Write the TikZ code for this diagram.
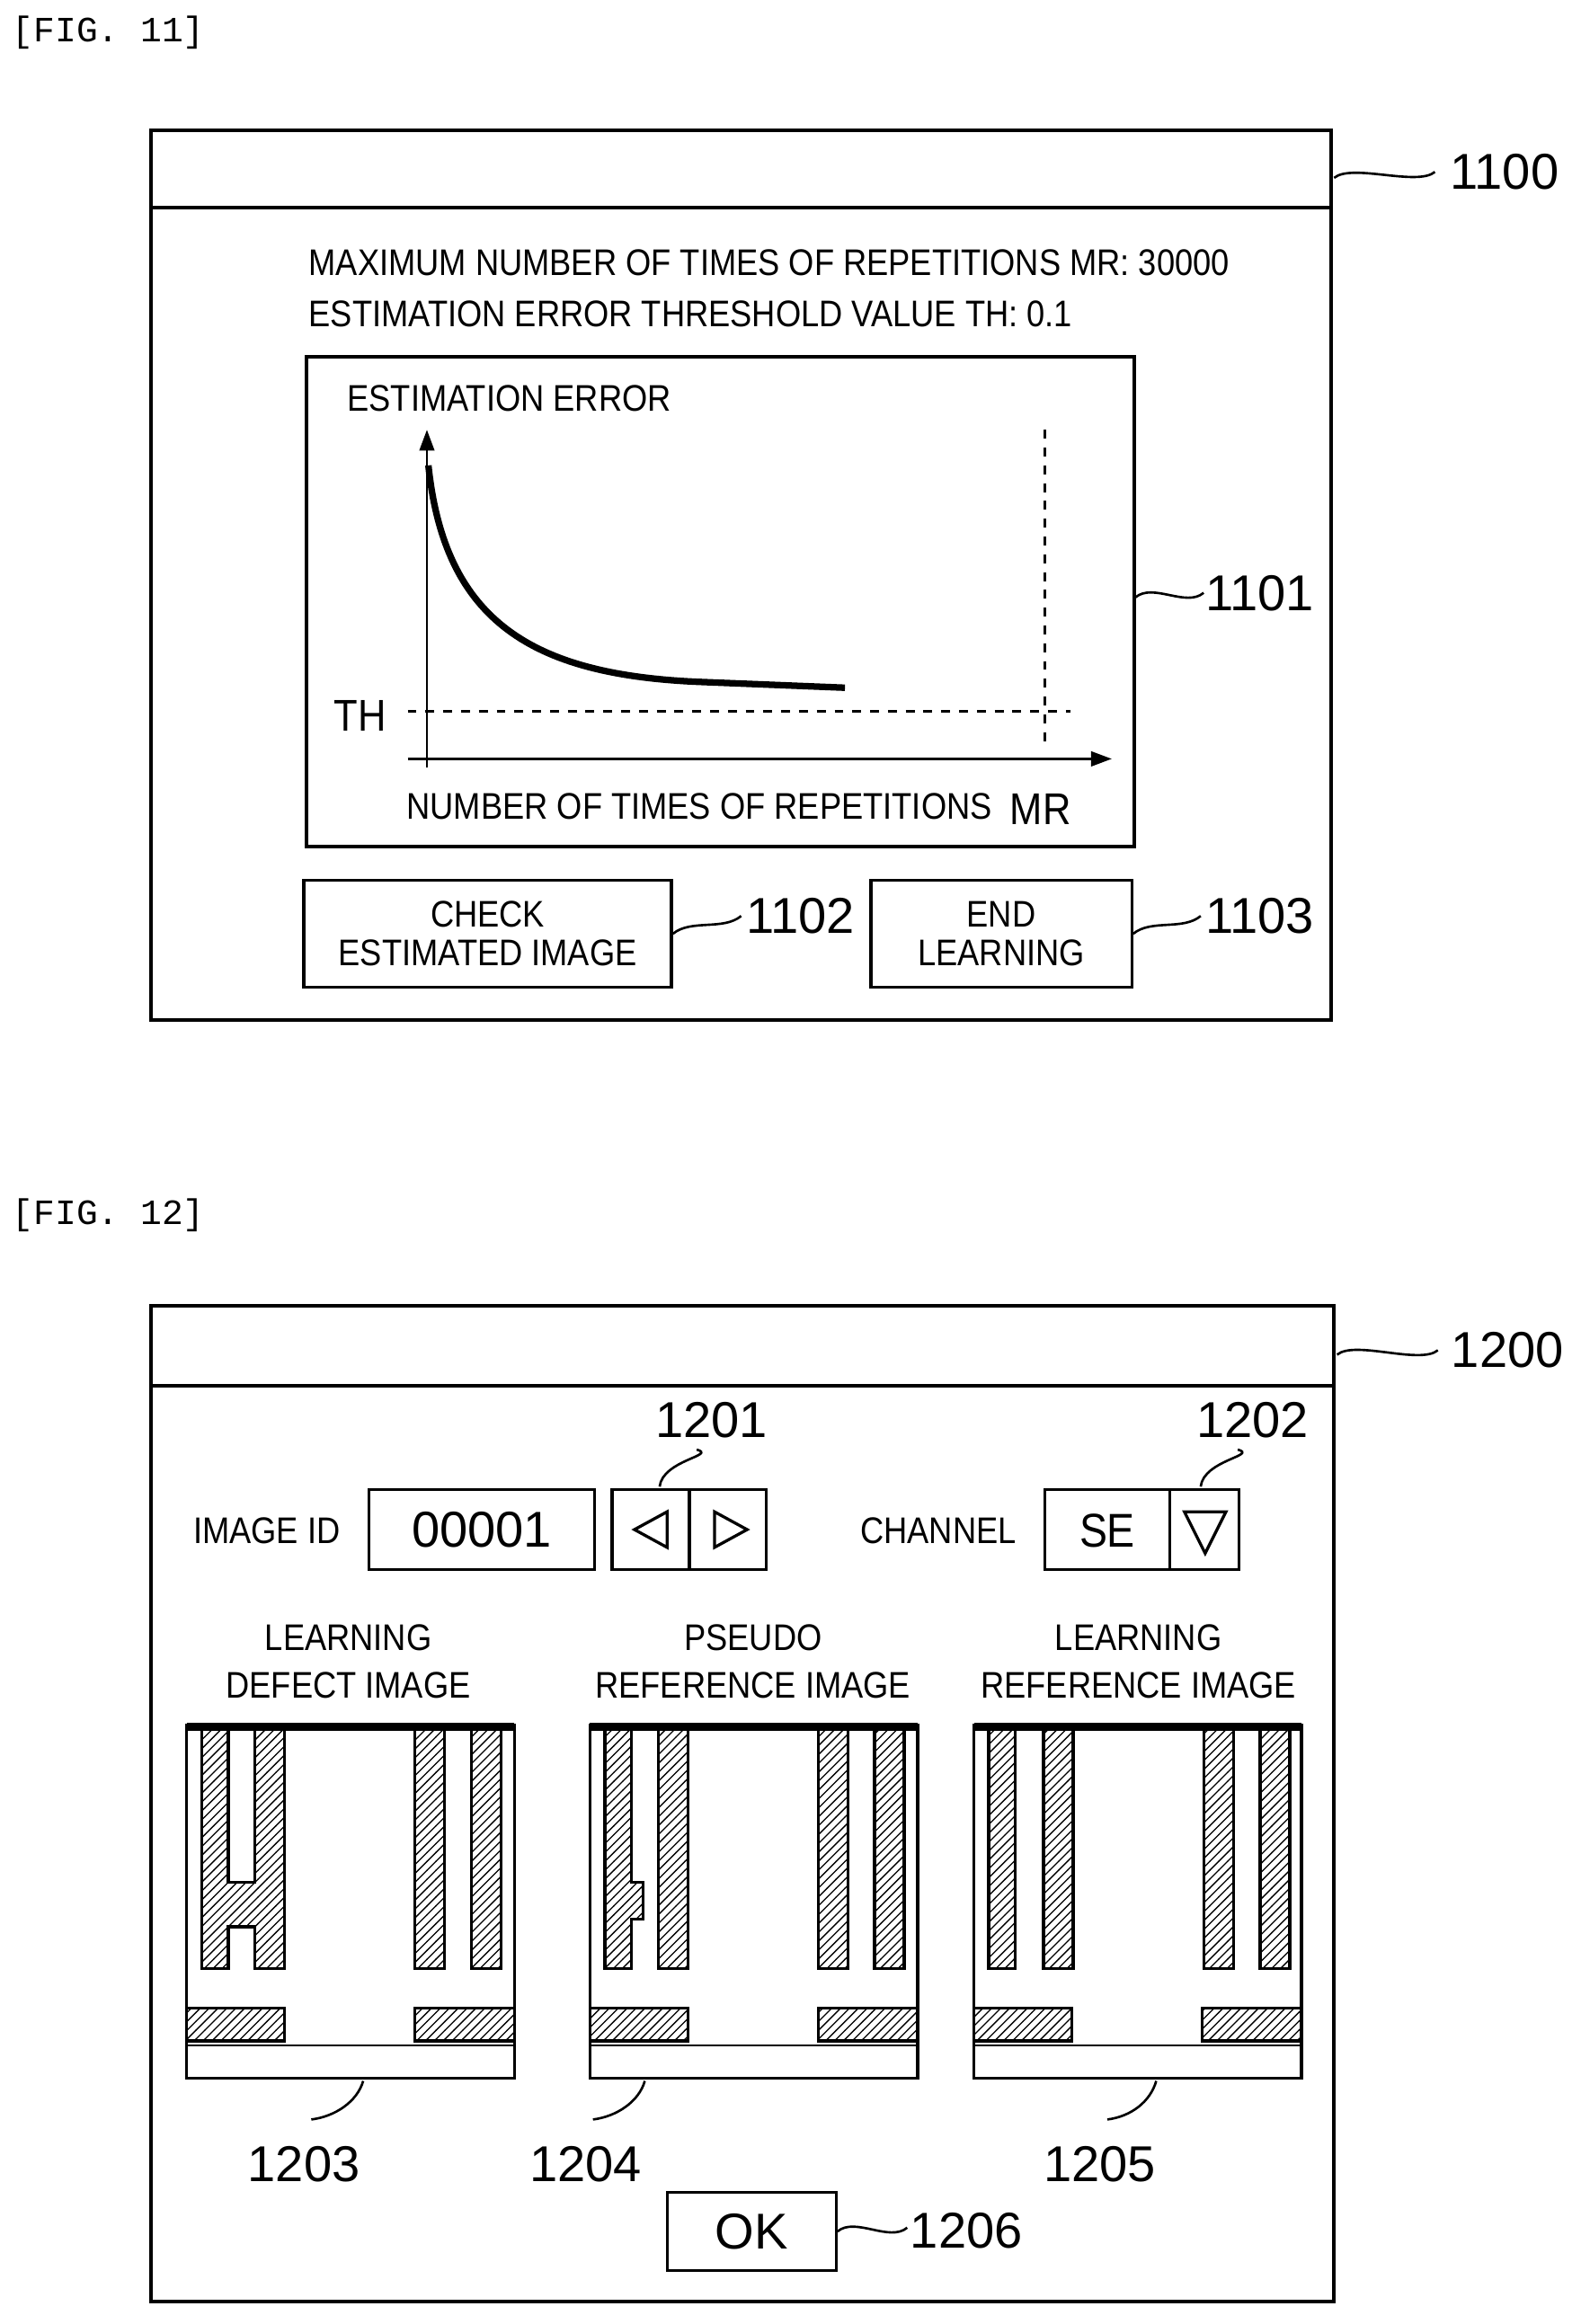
\documentclass[tikz,border=0pt]{standalone}
\usepackage{fontspec}
\setmainfont{Liberation Sans}[FakeStretch=0.88]
\newfontfamily\numfont{Liberation Sans}
\newfontfamily\figfont{Liberation Mono}
\usetikzlibrary{arrows.meta, positioning, patterns}

\newcommand{\squig}[2]{\draw[thick] (#1) .. controls +(12,-10) and +(-12,10) .. (#2);}
\newcommand{\vsquig}[2]{\draw[thick] (#1) .. controls +(2,-18) and +(14,4) .. (#2);}

\begin{document}
\begin{tikzpicture}[
    x=0.5pt, y=-0.5pt,
    >={Triangle[length=7pt,width=5pt]},
    win/.style={draw, line width=1.2pt},
    btn/.style={draw, line width=1pt, align=center, font=\fontsize{12.5}{13}\selectfont, inner sep=0pt},
    txt/.style={font=\fontsize{12.5}{14}\selectfont, inner sep=0pt},
    refnum/.style={font=\numfont\fontsize{17}{18}\selectfont, inner sep=0pt},
    hatch/.style={draw, line width=1pt, pattern=north east lines},
    figlabel/.style={font=\figfont\fontsize{12}{14}\selectfont, anchor=west, inner sep=0pt}
]
\useasboundingbox (0,0) rectangle (1066,1568);

% FIG. 11
\node[figlabel] (fig11) at (8,22) {[FIG. 11]};
\draw[win] (102,88) rectangle (898,688);
\draw[win] (102,140) -- (898,140);
\node[refnum] (n1100) at (1015,116) {1100};
\coordinate (w1100) at (900,120);
\squig{w1100}{968,116}

\node[txt, anchor=west] (mrtext) at (208,177) {MAXIMUM NUMBER OF TIMES OF REPETITIONS MR: 30000};
\node[txt, anchor=west] (thtext) at (208,212) {ESTIMATION ERROR THRESHOLD VALUE TH: 0.1};

% graph
\draw[line width=1.2pt] (207,241) rectangle (765,571);
\node[txt, anchor=west] (ylabel) at (234,269) {ESTIMATION ERROR};
\coordinate (yb) at (288,518);
\coordinate (yt) at (288,290);
\coordinate (xl) at (275,512);
\coordinate (xr) at (750,512);
\draw[->, thick] (yb) -- (yt);
\draw[->, thick] (xl) -- (xr);
\node[txt, font=\fontsize{15}{16}\selectfont] (th) at (243,483) {TH};
\coordinate (thl) at (275,480);
\coordinate (thr) at (722,480);
\draw[dashed, thick] (thl) -- (thr);
\coordinate (mrt) at (705,290);
\coordinate (mrb) at (705,505);
\draw[dashed, thick] (mrt) -- (mrb);
\draw[line width=2.2pt] (289,314) .. controls (300,420) and (360,455) .. (470,460) -- (570,464);
\node[txt, anchor=west] (xlabel) at (274,544) {NUMBER OF TIMES OF REPETITIONS};
\node[txt, font=\fontsize{15}{16}\selectfont] (mr) at (702,546) {MR};
\coordinate (w1101) at (766,403);
\squig{w1101}{812,400}
\node[refnum] (n1101) at (850,400) {1101};

% buttons
\node[btn, minimum width=124pt, minimum height=36pt] (check) at (329,630) {CHECK\\ESTIMATED IMAGE};
\node[btn, minimum width=88pt, minimum height=36pt] (endl) at (675.5,630) {END\\LEARNING};
\squig{check.east}{500,618}
\node[refnum] (n1102) at (540,618) {1102};
\squig{endl.east}{810,618}
\node[refnum] (n1103) at (850,618) {1103};

% FIG. 12
\node[figlabel] (fig12) at (8,820) {[FIG. 12]};
\draw[win] (102,881) rectangle (900,1553);
\draw[win] (102,935) -- (900,935);
\coordinate (w1200) at (902,914);
\squig{w1200}{970,911}
\node[refnum] (n1200) at (1017,911) {1200};

\node[txt] (imgid) at (180,1033) {IMAGE ID};
\node[btn, minimum width=76pt, minimum height=27pt, font=\numfont\fontsize{17}{18}\selectfont] (idbox) at (325,1032) {00001};
\draw[line width=1pt] (413,1005) rectangle (517,1059);
\draw[line width=1pt] (465,1005) -- (465,1059);
\draw[line width=1pt] (450,1020) -- (428,1032) -- (450,1044) -- cycle;
\draw[line width=1pt] (482,1020) -- (504,1032) -- (482,1044) -- cycle;
\node[refnum] (n1201) at (480,958) {1201};
\coordinate (w1201) at (445,1003);
\vsquig{w1201}{470,978}

\node[txt] (chan) at (633,1033) {CHANNEL};
\draw[line width=1pt] (705,1005) rectangle (836,1059);
\draw[line width=1pt] (789,1005) -- (789,1059);
\node[txt, font=\fontsize{16}{18}\selectfont] (se) at (747,1033) {SE};
\draw[line width=1pt] (799,1020) -- (827,1020) -- (813,1048) -- cycle;
\node[refnum] (n1202) at (845,958) {1202};
\coordinate (w1202) at (810,1003);
\vsquig{w1202}{835,978}

% image titles
\node[txt, align=center] (t1) at (235,1121) {LEARNING\\[2pt]DEFECT IMAGE};
\node[txt, align=center] (t2) at (508,1121) {PSEUDO\\[2pt]REFERENCE IMAGE};
\node[txt, align=center] (t3) at (768,1121) {LEARNING\\[2pt]REFERENCE IMAGE};

% images
\foreach \x/\c/\d in {126/154/192, 398/154/192, 657/155/193}{
  \draw[line width=1pt] (\x,1164) rectangle ++(221,238);
  \draw[line width=2.5pt] (\x,1165) -- ++(221,0);
  \draw[line width=0.8pt] (\x,1380) -- ++(221,0);
  \draw[hatch] ({\x+\c},1166) rectangle ++(20,162);
  \draw[hatch] ({\x+\d},1166) rectangle ++(20,162);
  \draw[hatch] (\x,1355) rectangle ++(66,22);
  \draw[hatch] ({\x+154},1355) rectangle ++(67,22);
}
% defect: two stripes joined by a bridge
\draw[hatch] (136,1166) -- (154,1166) -- (154,1270) -- (172,1270) -- (172,1166)
  -- (192,1166) -- (192,1328) -- (172,1328) -- (172,1300) -- (154,1300)
  -- (154,1328) -- (136,1328) -- cycle;
% pseudo stripe with bump
\draw[hatch] (408,1166) -- (426,1166) -- (426,1270) -- (434,1270) -- (434,1295)
  -- (426,1295) -- (426,1328) -- (408,1328) -- cycle;
\draw[hatch] (444,1166) rectangle ++(20,162);
\draw[hatch] (667,1166) rectangle ++(18,162);
\draw[hatch] (704,1166) rectangle ++(20,162);

\node[refnum] (n1203) at (205,1460) {1203};
\node[refnum] (n1204) at (395,1460) {1204};
\node[refnum] (n1205) at (742,1460) {1205};
\coordinate (w1203) at (245,1404);
\coordinate (w1204) at (435,1404);
\coordinate (w1205) at (780,1404);
\draw[thick] (w1203) .. controls +(-4,14) and +(16,-2) .. (210,1430);
\draw[thick] (w1204) .. controls +(-4,14) and +(16,-2) .. (400,1430);
\draw[thick] (w1205) .. controls +(-4,14) and +(16,-2) .. (747,1430);

\node[btn, minimum width=57pt, minimum height=26.5pt, font=\numfont\fontsize{17}{18}\selectfont] (ok) at (507,1505.5) {OK};
\squig{ok.east}{612,1503}
\node[refnum] (n1206) at (652,1505) {1206};
\end{tikzpicture}
\end{document}
